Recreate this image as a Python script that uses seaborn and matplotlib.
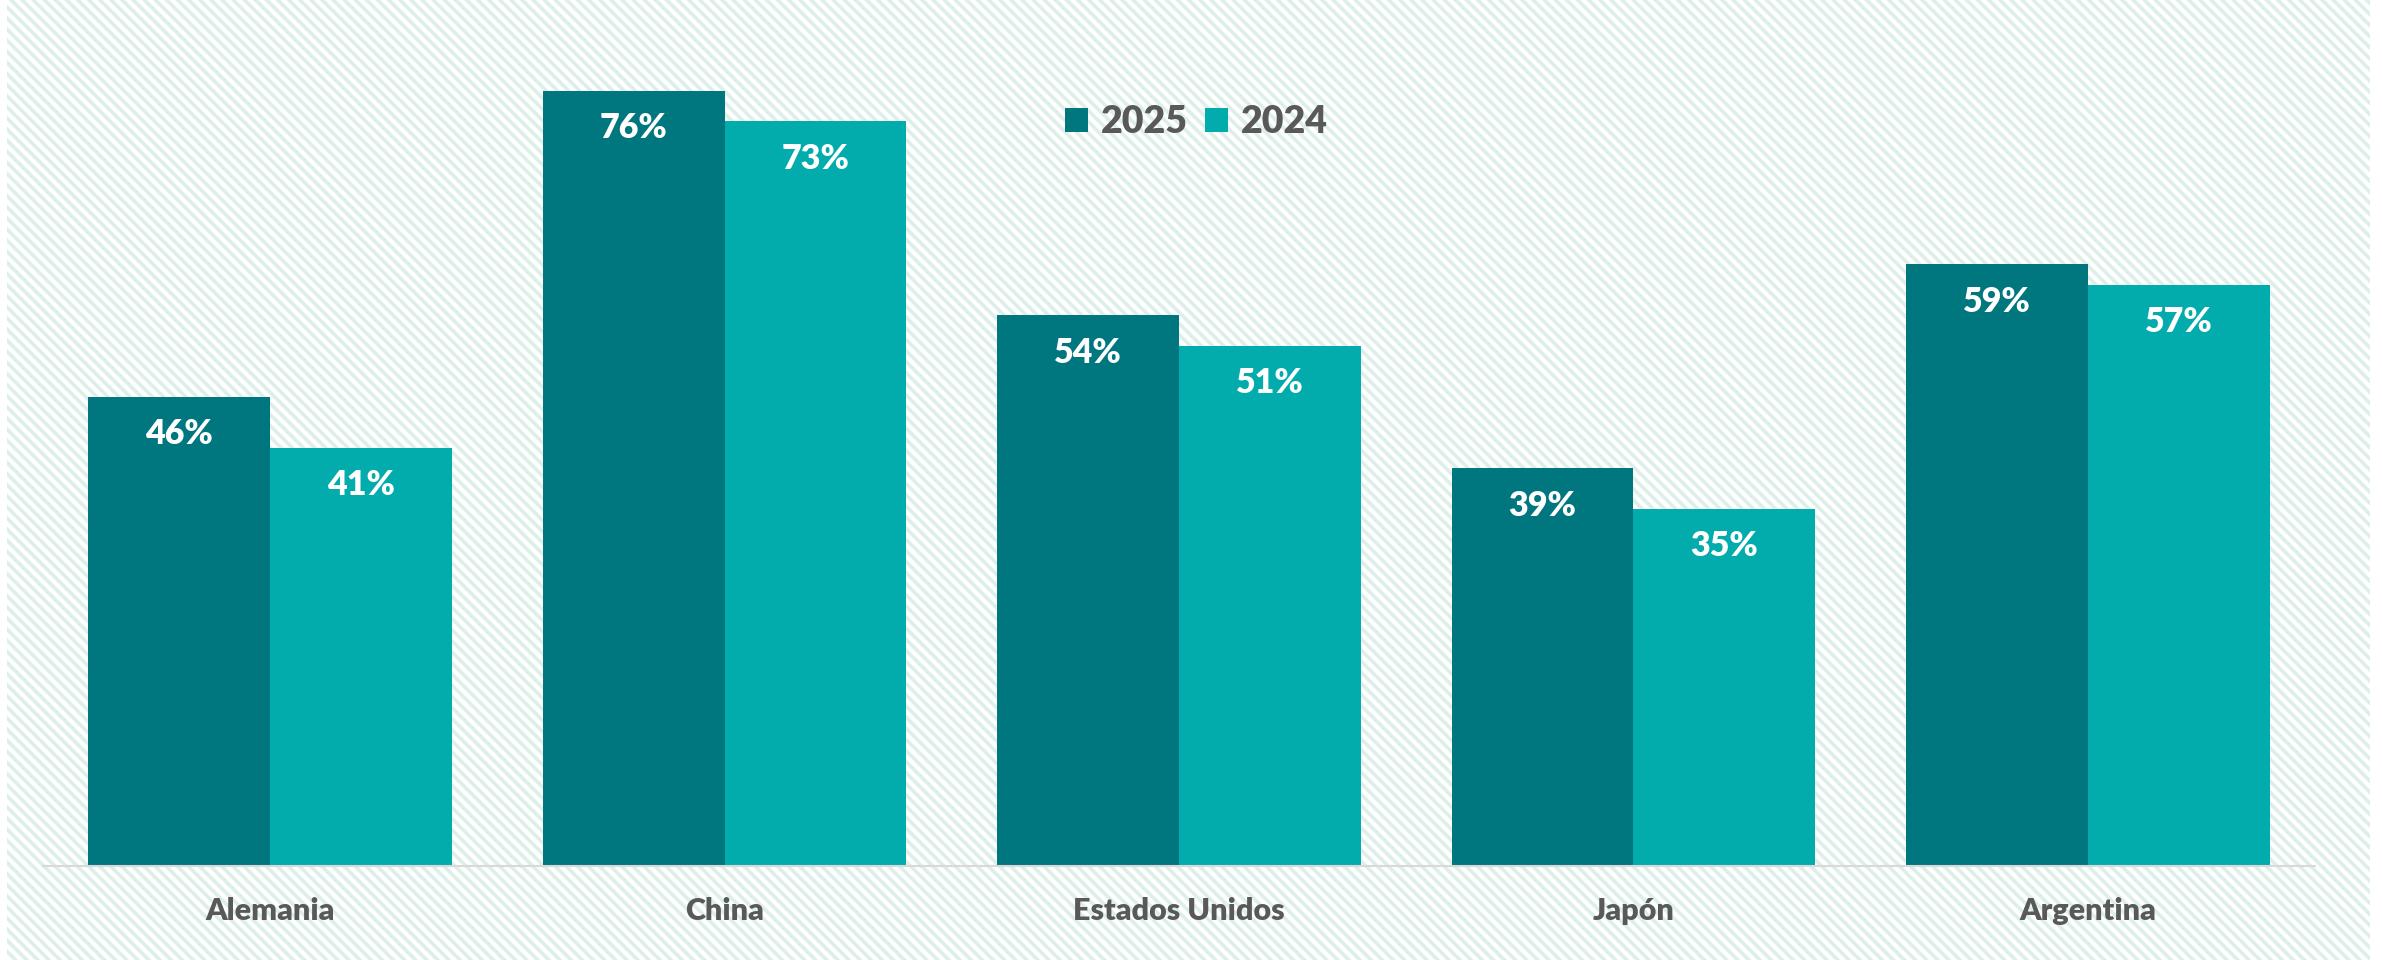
import matplotlib
matplotlib.use("Agg")
import matplotlib.pyplot as plt
from matplotlib.patches import Rectangle
import seaborn as sns
import pandas as pd

# Data
paises = ["Alemania", "China", "Estados Unidos", "Japón", "Argentina"]
anios = ["2025", "2024"]
valores_2025 = [46, 76, 54, 39, 59]
valores_2024 = [41, 73, 51, 35, 57]

colores = {"2025": "#00767F", "2024": "#02ACAD"}
gris = "#595959"

df = pd.DataFrame({
    "País": paises * 2,
    "Año": ["2025"] * len(paises) + ["2024"] * len(paises),
    "Valor": [v / 100 for v in valores_2025 + valores_2024],
})

sns.set_theme(style="white")
plt.rcParams["font.family"] = ["Lato", "DejaVu Sans"]
plt.rcParams["hatch.linewidth"] = 2.6
plt.rcParams["hatch.color"] = "#DDEFE9"

W, H = 2382, 960
fig = plt.figure(figsize=(W / 100, H / 100), dpi=100, facecolor="white")

# Hatched background panel
bg = Rectangle((7 / W, 0), (2370 - 7) / W, 1, transform=fig.transFigure,
               facecolor="white", edgecolor="#DDEFE9", hatch="\\\\\\",
               linewidth=0, zorder=-10)
fig.patches.append(bg)

ax = fig.add_axes([43 / W, 1 - 866 / H, (2315 - 43) / W, 816 / H])
ax.set_facecolor("none")
ax.set_zorder(1)

sns.barplot(data=df, x="País", y="Valor", hue="Año", hue_order=anios,
            order=paises, palette=colores, width=0.8, linewidth=0,
            saturation=1, ax=ax, legend=True)

ax.set_ylim(0, 0.8)
ax.set_xlim(-0.5, len(paises) - 0.5)

# Value labels inside the bars
for cont in ax.containers:
    for bar in cont:
        h = bar.get_height()
        ax.annotate(f"{round(h * 100):.0f}%",
                    (bar.get_x() + bar.get_width() / 2, h),
                    xytext=(0, -27), textcoords="offset points",
                    ha="center", va="center", color="white",
                    fontsize=24.5, fontweight="heavy")

ax.set_xlabel("")
ax.set_ylabel("")
ax.set_yticks([])
ax.tick_params(axis="x", length=0, pad=22, labelsize=22, labelcolor=gris)
for lbl in ax.get_xticklabels():
    lbl.set_fontweight("heavy")

for s in ["top", "left", "right"]:
    ax.spines[s].set_visible(False)
ax.spines["bottom"].set_color("#D9D9D9")
ax.spines["bottom"].set_linewidth(1.5)

handles, labels = ax.get_legend_handles_labels()
ax.legend_.remove()
leg = fig.legend(handles, labels, loc="center", bbox_to_anchor=(1196 / W, 1 - 122 / H),
                 ncol=2, frameon=False, prop={"size": 27, "weight": "heavy"},
                 handlelength=0.63, handleheight=0.63, handletextpad=0.33,
                 columnspacing=0.45, borderpad=0)
for t in leg.get_texts():
    t.set_color(gris)

fig.savefig("out.png", dpi=100, facecolor="white")
